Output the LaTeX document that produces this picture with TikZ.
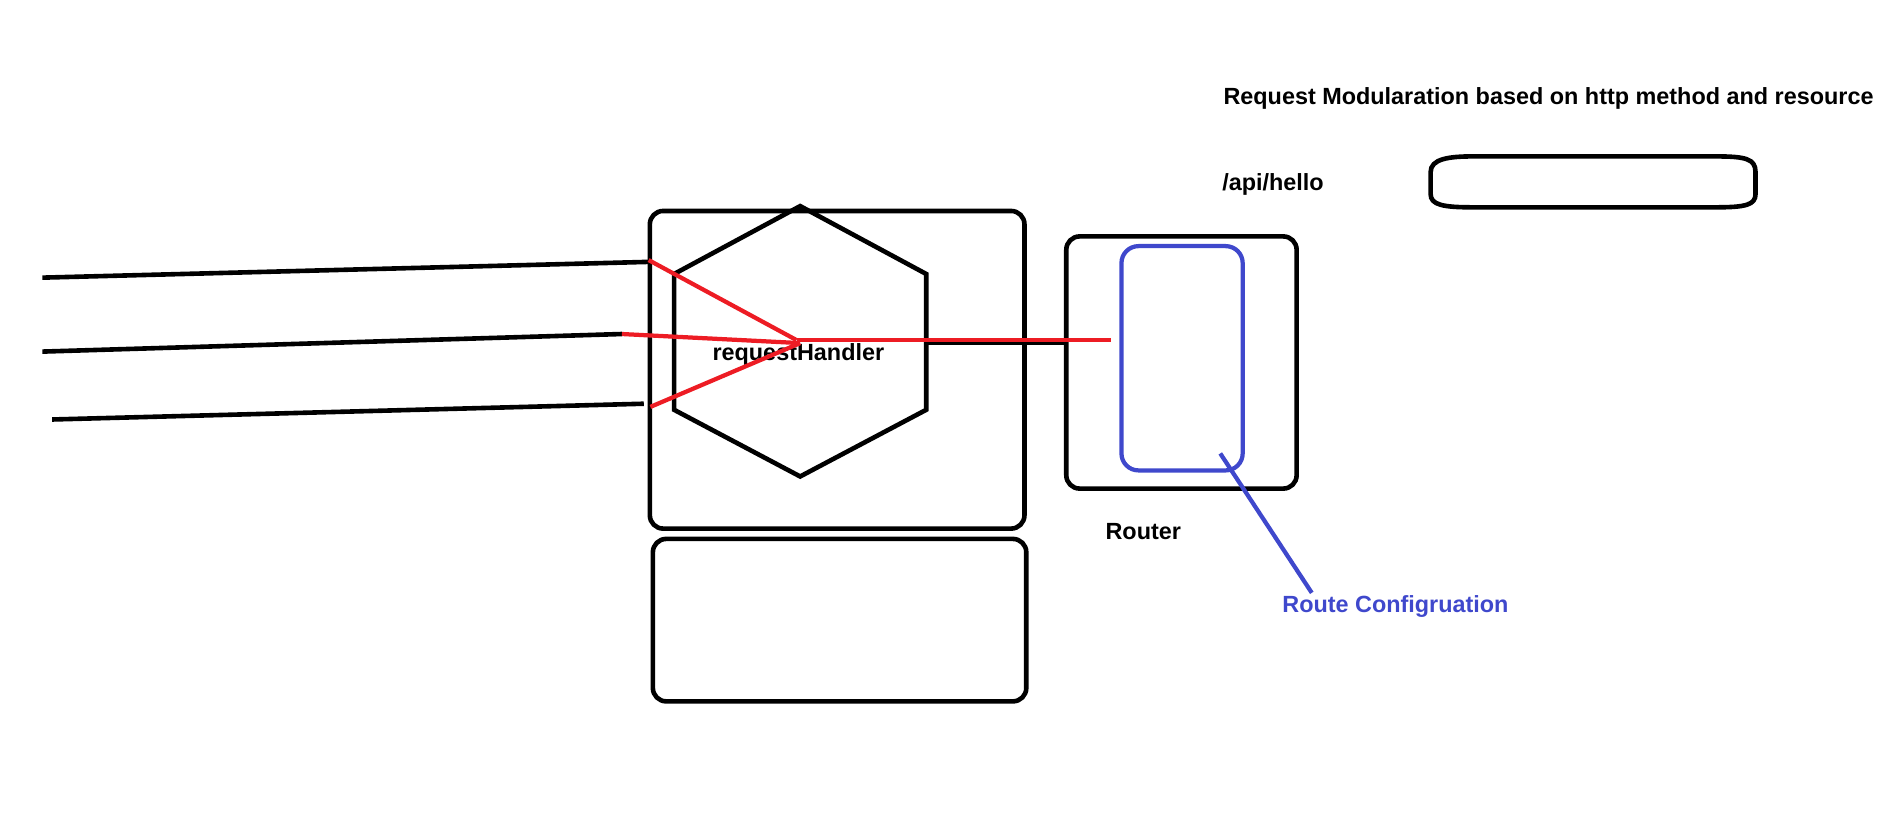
\documentclass[tikz,border=0pt]{standalone}
\usepackage{fontspec}
\setmainfont{Liberation Sans}
\definecolor{pred}{RGB}{237,28,36}
\definecolor{pblue}{RGB}{63,72,204}
\begin{document}
\begin{tikzpicture}[x=1pt,y=-1pt,
  blk/.style={line width=3.8pt, draw=black},
  redl/.style={line width=3.5pt, draw=pred},
  bluel/.style={line width=3.5pt, draw=pblue},
  rbox/.style={draw, line width=3.8pt, rounded corners=11pt, inner sep=0pt},
  lbl/.style={font=\fontsize{19.3}{22}\selectfont\bfseries, inner sep=0pt}]
\useasboundingbox (0,0) rectangle (1568,678);
% boxes
\node[rbox, minimum width=309pt, minimum height=262pt] (rh) at (690.5,305) {};
\node[rbox, minimum width=308pt, minimum height=134pt] (store) at (692.5,511.5) {};
\node[rbox, minimum width=190pt, minimum height=208pt] (router) at (974.5,299) {};
\node[rbox, draw=pblue, line width=3.5pt, rounded corners=14pt, minimum width=100pt, minimum height=185pt] (cfg) at (975,295.5) {};
% hexagon
\coordinate (h1) at (660,170);
\coordinate (h2) at (764,226);
\coordinate (h3) at (764,338);
\coordinate (h4) at (660,393);
\coordinate (h5) at (556,338);
\coordinate (h6) at (556,226);
\draw[blk, line join=miter] (h1)--(h2)--(h3)--(h4)--(h5)--(h6)--cycle;
\node[lbl, anchor=base] (rhl) at (658.5,297) {requestHandler};
% incoming lines
\coordinate (i1) at (35,229);  \coordinate (i1e) at (535,216);
\coordinate (i2) at (35,290);  \coordinate (i2e) at (513,275.5);
\coordinate (i3) at (43,346);  \coordinate (i3e) at (531,333);
\draw[blk] (i1) -- (i1e);
\draw[blk] (i2) -- (i2e);
\draw[blk] (i3) -- (i3e);
% black connector to router
\coordinate (c1) at (763,283);
\draw[blk] (c1) -- (c1 -| router.west);
% red paths
\coordinate (r1) at (535,214.5);
\coordinate (r3) at (536.5,335.6);
\coordinate (hub) at (657,280.5);
\coordinate (hub2) at (660,283);
\coordinate (rend) at (916,280.5);
\draw[redl] (r1) -- (hub);
\draw[redl] (i2e) -- (hub2);
\draw[redl] (r3) -- (hub2);
\draw[redl] (hub) -- (rend);
% labels
\node[lbl, anchor=base] (routerlbl) at (943,445) {Router};
\node[lbl, anchor=base, text=pblue] (cfglbl) at (1151,505) {Route Configruation};
\coordinate (bs) at (1006.5,374);
\coordinate (bt) at (1082,489);
\draw[bluel] (bs) -- (bt);
\node[lbl, anchor=base west] (title) at (1009,86) {Request Modularation based on http method and resource};
\node[lbl, anchor=base west] (api) at (1008,157) {/api/hello};
% top right shape
\draw[blk] (1180,142) .. controls (1180,131) and (1195,129) .. (1215,129) -- (1415,129)
  .. controls (1440,129) and (1448,131) .. (1448,142) -- (1448,160)
  .. controls (1448,169) and (1440,171) .. (1415,171) -- (1215,171)
  .. controls (1190,171) and (1180,169) .. (1180,160) -- cycle;
\end{tikzpicture}
\end{document}
